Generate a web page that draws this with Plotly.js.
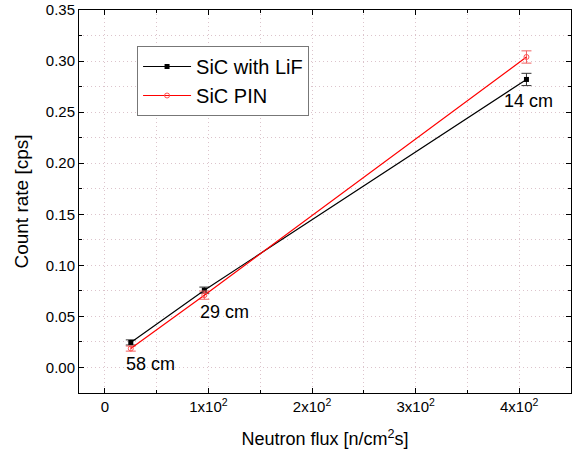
<!DOCTYPE html>
<html><head><meta charset="utf-8">
<script src="https://cdn.plot.ly/plotly-3.0.1.min.js"></script>
<style>body{margin:0;padding:0;background:#fff}#chart{width:582px;height:455px}</style>
</head><body><div id="chart"></div>
<script>
const flux = [25, 96, 407];
const lifRate = [0.0245, 0.0757, 0.282];
const lifErr = [0.0025, 0.003, 0.006];
const pinRate = [0.0185, 0.0708, 0.304];
const pinErr = [0.0025, 0.004, 0.006];
const distLabels = ["58 cm", "29 cm", "14 cm"];
const xTickVals = [0, 100, 200, 300, 400];
const xTickText = ["0", "1x10<sup>2</sup>", "2x10<sup>2</sup>", "3x10<sup>2</sup>", "4x10<sup>2</sup>"];

const font = "Liberation Sans, Arial, sans-serif";
const traces = [
  {x: flux, y: lifRate, name: "SiC with LiF", mode: "lines+markers",
   line: {color: "#000", width: 1.2}, marker: {symbol: "square", size: 5, color: "#000"},
   error_y: {type: "data", array: lifErr, visible: true, color: "#333", thickness: 1, width: 5}},
  {x: flux, y: pinRate, name: "SiC PIN", mode: "lines+markers",
   line: {color: "#ff0000", width: 1.2}, marker: {symbol: "circle-open", size: 5, color: "#ff5050", line: {width: 1}},
   error_y: {type: "data", array: pinErr, visible: true, color: "#f06060", thickness: 1, width: 5}}
];
const annotations = [
  {x: flux[0], y: lifRate[0], text: distLabels[0], xshift: 20, yshift: -22},
  {x: flux[1], y: lifRate[1], text: distLabels[1], xshift: 20, yshift: -22},
  {x: flux[2], y: lifRate[2], text: distLabels[2], xshift: 2, yshift: -22}
].map(a => Object.assign(a, {xref: "x", yref: "y", showarrow: false, font: {family: font, size: 18, color: "#000"}}));

const gridc = "#dcc4cc";
const gdash = "1px,3px";
const layout = {
  width: 582, height: 455,
  margin: {l: 79, r: 11, t: 10, b: 62},
  paper_bgcolor: "#fff", plot_bgcolor: "#fff",
  showlegend: true,
  legend: {x: 0.118, y: 0.906, xanchor: "left", yanchor: "top", bgcolor: "#fff",
    bordercolor: "#777", borderwidth: 1, font: {family: font, size: 20, color: "#000"},
    tracegroupgap: 0, itemwidth: 48},
  xaxis: {range: [-25, 450], tickvals: xTickVals, ticktext: xTickText,
    showline: true, linecolor: "#000", linewidth: 1, mirror: "allticks",
    ticks: "inside", ticklen: 5, tickcolor: "#000",
    showgrid: true, gridcolor: gridc, griddash: gdash, gridwidth: 1, zeroline: false,
    tickfont: {family: font, size: 15, color: "#000"},
    minor: {dtick: 50, tick0: 0, ticks: "inside", ticklen: 3, tickcolor: "#000", showgrid: true, gridcolor: gridc, griddash: gdash},
    title: {text: "Neutron flux [n/cm<sup>2</sup>s]", font: {family: font, size: 18, color: "#000"}, standoff: 18}},
  yaxis: {range: [-0.025, 0.35], dtick: 0.05, tick0: 0, tickformat: ".2f",
    showline: true, linecolor: "#000", linewidth: 1, mirror: "allticks",
    ticks: "inside", ticklen: 5, tickcolor: "#000",
    showgrid: true, gridcolor: gridc, griddash: gdash, gridwidth: 1, zeroline: false,
    tickfont: {family: font, size: 15, color: "#000"},
    minor: {dtick: 0.025, tick0: 0, ticks: "inside", ticklen: 3, tickcolor: "#000", showgrid: true, gridcolor: gridc, griddash: gdash},
    title: {text: "Count rate [cps]", font: {family: font, size: 19, color: "#000"}, standoff: 12}},
  annotations: annotations
};
Plotly.newPlot("chart", traces, layout, {displayModeBar: false, staticPlot: true});
</script></body></html>
